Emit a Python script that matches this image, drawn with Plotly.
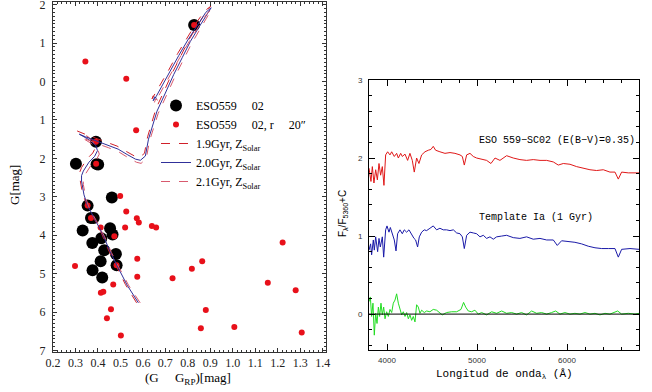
import plotly.graph_objects as go

# ---------------- Left panel data (CMD) ----------------
members_x = [0.828,0.391,0.302,0.394,0.401,0.462,0.354,0.369,0.381,0.332,0.454,0.465,0.415,0.375,0.428,0.480,0.412,0.483,0.376,0.419]
members_y = [-1.47,1.57,2.14,2.15,2.16,3.02,3.23,3.55,3.55,3.88,3.82,3.98,4.08,4.20,4.39,4.49,4.68,4.78,4.91,5.10]

inner_x = [0.344,0.526,0.570,0.828,0.391,0.392,0.499,0.354,0.526,0.369,0.573,0.582,0.640,0.659,0.412,0.521,0.473,0.298,0.575,0.483,0.575,0.732,0.468,0.413,0.424,0.458,0.440,0.502,1.222,0.864,0.818,1.156,1.280,0.880,0.858,1.007,1.307]
inner_y = [-0.52,-0.07,1.27,-1.47,1.57,2.14,2.98,3.23,3.38,3.55,3.56,3.67,3.76,3.80,3.80,3.80,4.03,4.80,4.61,4.78,5.08,5.12,5.28,5.50,5.47,5.93,6.16,6.61,4.19,4.68,4.87,5.24,5.43,5.95,6.42,6.39,6.53]

iso19_x = [0.572,0.522,0.477,0.444,0.413,0.377,0.346,0.330,0.319,0.319,0.327,0.352,0.377,0.390,0.382,0.354,0.309,0.338,0.388,0.434,0.485,0.526,0.563,0.586,0.607,0.621,0.640,0.658,0.695,0.732,0.770,0.806,0.846,0.882,0.902,0.876,0.840,0.795,0.755,0.715,0.680,0.655,0.641,0.647,0.657]
iso19_y = [5.76,5.28,4.75,4.35,3.91,3.48,3.15,2.87,2.50,2.36,2.24,2.01,1.86,1.71,1.57,1.43,1.29,1.36,1.47,1.56,1.68,1.82,1.94,1.97,1.87,1.44,1.04,0.71,0.24,-0.24,-0.68,-1.10,-1.48,-1.82,-1.96,-1.84,-1.55,-1.13,-0.73,-0.30,0.07,0.33,0.45,0.35,0.39]

iso20_x = [0.580,0.530,0.485,0.452,0.421,0.385,0.354,0.338,0.327,0.327,0.335,0.360,0.385,0.398,0.390,0.362,0.317,0.345,0.395,0.440,0.490,0.530,0.567,0.589,0.611,0.625,0.645,0.663,0.700,0.737,0.775,0.811,0.850,0.886,0.904,0.880,0.845,0.800,0.760,0.720,0.685,0.660,0.646,0.652,0.662]
iso20_y = [5.76,5.30,4.79,4.40,3.97,3.55,3.23,2.95,2.59,2.45,2.33,2.10,1.95,1.80,1.66,1.52,1.37,1.44,1.55,1.64,1.76,1.90,2.02,2.05,1.94,1.50,1.10,0.77,0.30,-0.18,-0.62,-1.04,-1.42,-1.77,-1.92,-1.80,-1.50,-1.08,-0.68,-0.25,0.12,0.38,0.50,0.40,0.44]

iso21_x = [0.588,0.538,0.493,0.460,0.429,0.393,0.362,0.346,0.335,0.335,0.343,0.368,0.393,0.406,0.398,0.370,0.325,0.352,0.402,0.446,0.495,0.534,0.571,0.592,0.615,0.629,0.650,0.668,0.705,0.742,0.780,0.816,0.854,0.890,0.906,0.884,0.850,0.805,0.765,0.725,0.690,0.665,0.651,0.657,0.667]
iso21_y = [5.76,5.32,4.83,4.45,4.03,3.62,3.31,3.03,2.68,2.54,2.42,2.19,2.04,1.89,1.75,1.61,1.45,1.52,1.63,1.72,1.84,1.98,2.10,2.13,2.01,1.56,1.16,0.83,0.36,-0.12,-0.56,-0.98,-1.36,-1.72,-1.88,-1.76,-1.45,-1.03,-0.63,-0.20,0.17,0.43,0.55,0.45,0.49]

cmd_ytick_vals = [-2,-1,0,1,2,3,4,5,6,7]
cmd_ytick_text = ["2","1","0","1","2","3","4","5","6","7"]

# ---------------- Right panel data (spectra) ----------------
red_wl = [3800,3822,3837,3855,3874,3893,3911,3929,3948,3966,3985,4007,4033,4052,4081,4107,4126,4152,4170,4200,4229,4255,4281,4303,4329,4355,4385,4422,4459,4488,4514,4540,4588,4644,4700,4755,4811,4837,4859,4885,4922,4959,4996,5052,5107,5155,5200,5255,5329,5403,5477,5551,5625,5700,5774,5848,5903,5959,6033,6107,6181,6255,6329,6403,6477,6533,6570,6607,6681,6774,6800]
red_fl = [1.87,1.70,1.89,1.68,1.85,1.72,1.93,1.78,1.89,1.65,2.04,2.08,2.04,2.08,2.02,2.06,2.00,2.06,2.02,2.05,1.97,2.06,1.97,1.82,2.00,1.93,2.04,2.08,2.10,2.11,2.15,2.10,2.08,2.06,2.07,2.06,2.04,2.02,1.91,2.04,2.06,2.02,2.00,1.98,1.97,1.93,2.00,1.97,2.03,2.00,1.98,1.97,1.98,1.97,1.97,1.95,1.91,1.93,1.92,1.89,1.87,1.85,1.84,1.85,1.82,1.82,1.73,1.82,1.81,1.81,1.81]

blue_wl = [3800,3818,3829,3848,3859,3874,3896,3911,3926,3948,3963,3985,4000,4022,4037,4059,4081,4100,4118,4144,4170,4192,4218,4244,4274,4300,4318,4340,4359,4385,4414,4440,4477,4514,4551,4588,4625,4662,4700,4737,4774,4811,4837,4859,4885,4922,4959,4996,5033,5070,5107,5144,5181,5218,5274,5329,5403,5477,5551,5625,5700,5774,5848,5892,5940,6014,6088,6162,6236,6311,6385,6459,6533,6570,6607,6700,6800]
blue_fl = [0.82,0.90,0.76,0.95,0.82,0.99,0.80,0.97,0.86,0.99,0.73,1.08,1.13,1.05,1.11,1.03,0.95,0.81,1.03,1.08,1.03,1.08,1.05,1.08,1.01,0.97,0.95,0.86,0.99,1.05,1.08,1.07,1.10,1.13,1.08,1.10,1.08,1.08,1.07,1.08,1.04,1.03,0.99,0.84,1.01,1.05,1.04,1.03,0.99,1.01,0.97,0.99,0.96,0.99,1.00,1.01,0.98,0.97,0.99,0.96,0.97,0.95,0.95,0.88,0.94,0.93,0.92,0.90,0.87,0.85,0.84,0.84,0.84,0.73,0.83,0.84,0.83]

green_wl = [3800,3815,3829,3844,3859,3874,3889,3904,3918,3933,3948,3963,3978,3996,4015,4033,4052,4070,4089,4107,4126,4144,4163,4181,4200,4218,4237,4255,4274,4292,4311,4329,4348,4366,4385,4414,4440,4477,4514,4551,4588,4614,4662,4718,4774,4822,4851,4874,4903,4940,4977,5014,5052,5107,5163,5218,5274,5329,5385,5440,5496,5551,5607,5663,5718,5774,5829,5874,5922,5977,6033,6088,6144,6200,6255,6311,6366,6422,6477,6533,6563,6607,6681,6755,6800]
green_fl = [0.16,0.22,-0.03,0.14,-0.27,0.01,-0.12,0.09,-0.03,0.14,-0.01,0.09,-0.06,0.03,-0.03,0.06,0.02,0.14,0.18,0.26,0.14,0.05,-0.01,0.03,-0.03,0.02,-0.06,-0.01,-0.08,-0.03,-0.10,0.12,0.09,0.01,0.05,0.02,0.04,0.03,0.06,0.05,0.02,-0.01,0.02,0.03,0.03,0.06,0.15,0.09,0.04,0.03,0.05,0.00,0.02,-0.01,0.03,0.01,0.04,0.01,0.02,0.00,0.02,-0.01,0.04,0.01,0.02,0.00,0.02,0.04,0.00,0.02,0.00,0.01,0.00,0.02,0.00,0.01,-0.01,0.01,0.00,0.02,0.04,0.00,0.01,0.00,0.01]

spec_xticks = [4000, 5000, 6000]
spec_yticks = [0, 1, 2, 3]

SERIF = "Liberation Serif, DejaVu Serif, serif"
MONO = "Liberation Mono, DejaVu Sans Mono, monospace"
SANS = "Liberation Sans, Arial, sans-serif"

fig = go.Figure()

fig.add_trace(go.Scatter(x=members_x, y=members_y, mode="markers", xaxis="x", yaxis="y",
                         name="ESO559&nbsp;&nbsp;&nbsp;&nbsp;&nbsp;02",
                         marker=dict(color="black", size=12, line=dict(width=0))))
fig.add_trace(go.Scatter(x=inner_x, y=inner_y, mode="markers", xaxis="x", yaxis="y",
                         name="ESO559&nbsp;&nbsp;&nbsp;&nbsp;&nbsp;02, r&nbsp;&nbsp;&nbsp;&nbsp;&nbsp;20″",
                         marker=dict(color="#e8101a", size=6, line=dict(width=0))))
fig.add_trace(go.Scatter(x=iso19_x, y=iso19_y, mode="lines", xaxis="x", yaxis="y",
                         name="1.9Gyr, Z<sub>Solar</sub>",
                         line=dict(color="#d0202a", width=1, dash="dash")))
fig.add_trace(go.Scatter(x=iso20_x, y=iso20_y, mode="lines", xaxis="x", yaxis="y",
                         name="2.0Gyr, Z<sub>Solar</sub>",
                         line=dict(color="#30309a", width=1)))
fig.add_trace(go.Scatter(x=iso21_x, y=iso21_y, mode="lines", xaxis="x", yaxis="y",
                         name="2.1Gyr, Z<sub>Solar</sub>",
                         line=dict(color="#d85a6e", width=1, dash="dash")))

fig.add_trace(go.Scatter(x=red_wl, y=red_fl, mode="lines", xaxis="x2", yaxis="y2",
                         showlegend=False, line=dict(color="#e01818", width=1)))
fig.add_trace(go.Scatter(x=blue_wl, y=blue_fl, mode="lines", xaxis="x2", yaxis="y2",
                         showlegend=False, line=dict(color="#1a1aa8", width=1)))
fig.add_trace(go.Scatter(x=green_wl, y=green_fl, mode="lines", xaxis="x2", yaxis="y2",
                         showlegend=False, line=dict(color="#22dd22", width=1)))

fig.add_shape(type="line", xref="x2", yref="y2", x0=3800, x1=6800, y0=0, y1=0,
              line=dict(color="black", width=1))

W, H = 652, 392

def px(xp):
    return xp / W

def py(yp):
    return 1 - yp / H

fig.update_layout(
    template="none",
    width=W, height=H,
    margin=dict(l=0, r=0, t=0, b=0, autoexpand=False),
    paper_bgcolor="white", plot_bgcolor="white",
    showlegend=True,
    legend=dict(x=px(156), y=py(91), xanchor="left", yanchor="top",
                bgcolor="rgba(0,0,0,0)", borderwidth=0,
                font=dict(family=SERIF, size=12, color="black"),
                itemwidth=30, tracegroupgap=0),
    xaxis=dict(domain=[px(53), px(326)], range=[0.2, 1.415], anchor="y", automargin=False,
               tick0=0.2, dtick=0.1, tickformat=".1f", ticklabeloverflow="allow",
               ticks="inside", ticklen=4, tickcolor="#333", showgrid=False, zeroline=False,
               showline=True, linecolor="#333", linewidth=1, mirror="allticks",
               minor=dict(dtick=0.02, ticks="inside", ticklen=2, tickcolor="#333", showgrid=False),
               tickfont=dict(family=SERIF, size=12, color="#222")),
    yaxis=dict(domain=[py(352), py(2)], range=[7.04, -2.07], anchor="x", automargin=False,
               tickvals=cmd_ytick_vals, ticktext=cmd_ytick_text, ticklabeloverflow="allow",
               ticks="inside", ticklen=4, tickcolor="#333", showgrid=False, zeroline=False,
               showline=True, linecolor="#333", linewidth=1, mirror="allticks",
               minor=dict(dtick=0.1, ticks="inside", ticklen=2, tickcolor="#333", showgrid=False),
               tickfont=dict(family=SERIF, size=12, color="#222"), ticklabelstandoff=4),
    xaxis2=dict(domain=[px(369), px(639)], range=[3800, 6800], anchor="y2", automargin=False,
                tickvals=spec_xticks, ticklabeloverflow="allow",
                ticks="inside", ticklen=6, tickcolor="black", showgrid=False, zeroline=False,
                showline=True, linecolor="black", linewidth=1, mirror="allticks",
                minor=dict(dtick=200, tick0=4000, ticks="inside", ticklen=3, tickcolor="black", showgrid=False),
                tickfont=dict(family=SANS, size=8, color="#333"), ticklabelstandoff=2),
    yaxis2=dict(domain=[py(350), py(80)], range=[-0.46, 3.0], anchor="x2", automargin=False,
                tickvals=spec_yticks, ticklabeloverflow="allow",
                ticks="inside", ticklen=6, tickcolor="black", showgrid=False, zeroline=False,
                showline=True, linecolor="black", linewidth=1, mirror="allticks",
                minor=dict(dtick=0.2, tick0=0, ticks="inside", ticklen=3, tickcolor="black", showgrid=False),
                tickfont=dict(family=SANS, size=8, color="#333"), ticklabelstandoff=4),
)

ann = []
ann.append(dict(text="(G&nbsp;&nbsp;&nbsp;&nbsp;&nbsp;G<sub>RP</sub>)[mag]", xref="paper", yref="paper",
                x=px(188), y=py(378), showarrow=False, xanchor="center", yanchor="middle",
                font=dict(family=SERIF, size=13, color="black")))
ann.append(dict(text="G[mag]", xref="paper", yref="paper", x=px(15), y=py(185), textangle=-90,
                showarrow=False, xanchor="center", yanchor="middle",
                font=dict(family=SERIF, size=13, color="black")))
ann.append(dict(text="ESO 559−SC02 (E(B−V)=0.35)", xref="x2", yref="y2", x=5000, y=2.23,
                showarrow=False, xanchor="left", yanchor="middle",
                font=dict(family=MONO, size=10, color="black")))
ann.append(dict(text="Template Ia (1 Gyr)", xref="x2", yref="y2", x=5000, y=1.24,
                showarrow=False, xanchor="left", yanchor="middle",
                font=dict(family=MONO, size=10, color="black")))
ann.append(dict(text="Longitud de onda<sub>λ</sub> (Å)", xref="paper", yref="paper",
                x=px(504), y=py(374), showarrow=False, xanchor="center", yanchor="middle",
                font=dict(family=MONO, size=11, color="black")))
ann.append(dict(text="F<sub>λ</sub>/F<sub>5360</sub>+C", xref="paper", yref="paper",
                x=px(343), y=py(214), textangle=-90, showarrow=False,
                xanchor="center", yanchor="middle",
                font=dict(family=SANS, size=10, color="black")))
fig.update_layout(annotations=ann)

# remove the browser's default 8px page margin so the 652x392 figure fills the window exactly
fig.write_html("out.html", config={"displayModeBar": False},
               post_script="document.body.style.margin='0px';")
